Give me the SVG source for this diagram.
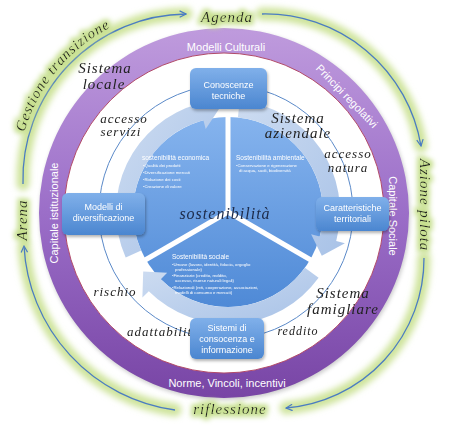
<svg xmlns="http://www.w3.org/2000/svg" width="449" height="430" viewBox="0 0 449 430">
<style>
.hw{font-family:"Liberation Serif","DejaVu Serif",serif;font-style:italic;fill:#222;letter-spacing:1px}
.rt{font-family:"Liberation Sans",Arial,sans-serif;font-size:11px;fill:#fff;text-anchor:middle}
.bx{font-family:"Liberation Sans",Arial,sans-serif;font-size:9px;fill:#fff;text-anchor:middle}
.st{font-family:"Liberation Sans",Arial,sans-serif;font-size:6.5px;fill:#fff}
.bl{font-family:"Liberation Sans",Arial,sans-serif;font-size:4.3px;fill:#fff}
.arc{fill:none;stroke:#4b7cc2;stroke-width:1.3;marker-end:url(#ah)}
.glow{fill:none;stroke:#cfe49c;stroke-width:13;stroke-linecap:round;filter:url(#blur)}
.box{fill:url(#gBox);filter:url(#sh)}
.band{fill:url(#gBand)}
.div{stroke:#fff;stroke-width:5}
</style>
<defs>
<marker id="ah" viewBox="0 0 10 10" refX="9" refY="5" markerWidth="8" markerHeight="8" orient="auto" markerUnits="userSpaceOnUse"><path d="M1,1 L9,5 L1,9" fill="none" stroke="#4b7cc2" stroke-width="1.5"/></marker>
<filter id="tg" x="-30%" y="-60%" width="160%" height="220%">
<feMorphology in="SourceAlpha" operator="dilate" radius="2.5" result="d"/>
<feGaussianBlur in="d" stdDeviation="2.5" result="b"/>
<feFlood flood-color="#c6df8e"/>
<feComposite in2="b" operator="in" result="g"/>
<feMerge><feMergeNode in="g"/><feMergeNode in="SourceGraphic"/></feMerge>
</filter>
<filter id="blur" x="-20%" y="-20%" width="140%" height="140%"><feGaussianBlur stdDeviation="3"/></filter>
<filter id="sh" x="-20%" y="-20%" width="140%" height="150%"><feDropShadow dx="1" dy="2" stdDeviation="1.5" flood-color="#000" flood-opacity="0.3"/></filter>
<filter id="rs" x="-10%" y="-10%" width="120%" height="120%"><feGaussianBlur stdDeviation="2"/></filter>
<linearGradient id="gRing" x1="0" y1="0" x2="0" y2="1"><stop offset="0" stop-color="#bf9bdd"/><stop offset="0.5" stop-color="#9b6ec8"/><stop offset="1" stop-color="#7845a5"/></linearGradient>
<linearGradient id="gBox" x1="0" y1="0" x2="0" y2="1"><stop offset="0" stop-color="#80b0ea"/><stop offset="1" stop-color="#4b86d0"/></linearGradient>
<linearGradient id="gDisc" gradientUnits="userSpaceOnUse" x1="0" y1="115" x2="0" y2="310"><stop offset="0" stop-color="#86b4ee"/><stop offset="1" stop-color="#4e89d6"/></linearGradient>
<linearGradient id="gBand" x1="0" y1="0" x2="1" y2="1"><stop offset="0" stop-color="#cddcf1"/><stop offset="1" stop-color="#a8c2e7"/></linearGradient>
</defs>

<g id="connectors">
<path class="glow" d="M23,184 A165,165 0 0,1 186,14"/>
<path class="glow" d="M262,14 A158,158 0 0,1 421,146"/>
<path class="glow" d="M424,258 A150,150 0 0,1 286,408"/>
<path class="glow" d="M175,410 A175,175 0 0,1 24,246"/>
<path class="arc" d="M23,184 A165,165 0 0,1 186,14"/>
<path class="arc" d="M262,14 A158,158 0 0,1 421,146"/>
<path class="arc" d="M424,258 A150,150 0 0,1 286,408"/>
<path class="arc" d="M175,410 A175,175 0 0,1 24,246"/>
</g>

<g id="ring">
<circle cx="225" cy="215" r="185" fill="#666" opacity="0.35" filter="url(#rs)"/>
<path fill="url(#gRing)" fill-rule="evenodd" d="M39,213 A185,185 0 1,0 409,213 A185,185 0 1,0 39,213 Z M64,213 A160,160 0 1,0 384,213 A160,160 0 1,0 64,213 Z"/>
<circle cx="224" cy="213" r="160" fill="#fff" stroke="#b24a6a" stroke-width="1"/>
<text class="rt" x="226" y="51">Modelli Culturali</text>
<text class="rt" transform="translate(347,96) rotate(46)" y="4">Principi regolativi</text>
<text class="rt" transform="translate(393,216) rotate(90)" y="4">Capitale Sociale</text>
<text class="rt" transform="translate(54,213) rotate(-90)" y="4">Capitale istituzionale</text>
<text class="rt" x="227" y="387">Norme, Vincoli, incentivi</text>
</g>

<g id="outer-labels" filter="url(#tg)">
<text class="hw" font-size="15" x="227" y="22" text-anchor="middle">Agenda</text>
<text class="hw" font-size="15" transform="translate(424,205) rotate(90)" y="4" text-anchor="middle">Azione pilota</text>
<text class="hw" font-size="15" x="230" y="414" text-anchor="middle">riflessione</text>
<text class="hw" font-size="15" transform="translate(22,220) rotate(-90)" y="5" text-anchor="middle">Arena</text>
<path id="gtp" d="M19.2,158.2 A170,170 0 0,1 135.4,17.2" fill="none"/>
<text class="hw" font-size="14.5"><textPath href="#gtp" startOffset="50%" text-anchor="middle">Gestione transizione</textPath></text>
</g>

<circle cx="226" cy="212" r="127" fill="none" stroke="#5a89c8" stroke-width="1"/>

<g id="cycle">
<circle cx="228" cy="212" r="95" fill="url(#gDisc)"/>
<path class="band" d="M125.7,257.6 A112,112 0 0,1 199.0,103.8 L196.7,95.1 L219.0,108.9 L205.7,128.9 L203.4,120.2 A95,95 0 0,0 141.2,250.6 Z"/>
<path class="band" d="M239.7,100.6 A112,112 0 0,1 336.2,241.0 L344.9,243.3 L321.8,255.7 L311.1,234.3 L319.8,236.6 A95,95 0 0,0 237.9,117.5 Z"/>
<path class="band" d="M318.6,277.8 A112,112 0 0,1 148.8,291.2 L142.4,297.6 L143.2,271.4 L167.2,272.8 L160.8,279.2 A95,95 0 0,0 304.9,267.8 Z"/>
<line class="div" x1="228" y1="212" x2="228" y2="108"/>
<line class="div" x1="228" y1="212" x2="316" y2="263"/>
<line class="div" x1="228" y1="212" x2="140" y2="263"/>
</g>

<g id="sost-economica">
<text class="st" x="142" y="160">sostenibilità economica</text>
<text class="bl" x="143" y="167">•Qualità dei prodotti</text>
<text class="bl" x="143" y="174">•Diversificazione mercati</text>
<text class="bl" x="143" y="181">•Riduzione dei costi</text>
<text class="bl" x="143" y="188">•Creazione di valore</text>
</g>
<g id="sost-ambientale">
<text class="st" x="236" y="160">Sostenibilità ambientale</text>
<text class="bl" x="236" y="167">•Conservazione e rigenerazione</text>
<text class="bl" x="239" y="172">di acqua, suoli, biodiversità</text>
</g>
<g id="sost-sociale">
<text class="st" x="172" y="259">Sostenibilità sociale</text>
<text class="bl" x="172" y="266">•Umane (lavoro, identità, fiducia, orgoglio</text>
<text class="bl" x="175" y="271">professionale)</text>
<text class="bl" x="172" y="277">•Finanziarie (credito, reddito,</text>
<text class="bl" x="175" y="282">accesso, risorse naturali legali)</text>
<text class="bl" x="172" y="289">•Relazionali (reti, cooperazione, associazioni,</text>
<text class="bl" x="175" y="294">modelli di consumo e mercati)</text>
</g>

<g id="inner-labels">
<text class="hw" font-size="15" x="105" y="73" text-anchor="middle">Sistema</text>
<text class="hw" font-size="15" x="104" y="89" text-anchor="middle">locale</text>
<text class="hw" font-size="13" x="124" y="123" text-anchor="middle">accesso</text>
<text class="hw" font-size="13" x="121" y="136" text-anchor="middle">servizi</text>
<text class="hw" font-size="15" x="298" y="123" text-anchor="middle">Sistema</text>
<text class="hw" font-size="15" x="298" y="138" text-anchor="middle">aziendale</text>
<text class="hw" font-size="13" x="348" y="158" text-anchor="middle">accesso</text>
<text class="hw" font-size="13" x="348" y="172" text-anchor="middle">natura</text>
<text class="hw" font-size="16" x="225" y="219" text-anchor="middle" style="fill:#1c2a48">sostenibilità</text>
<text class="hw" font-size="13" x="115" y="296" text-anchor="middle">rischio</text>
<text class="hw" font-size="13" x="127" y="336">adattabilità</text>
<text class="hw" font-size="15" x="343" y="298" text-anchor="middle">Sistema</text>
<text class="hw" font-size="15" x="343" y="314" text-anchor="middle">famigliare</text>
<text class="hw" font-size="12" x="298" y="335" text-anchor="middle">reddito</text>
</g>

<g id="box-conoscenze">
<rect class="box" x="190" y="68" width="77" height="41" rx="6"/>
<text class="bx" x="228.5" y="88">Conoscenze</text>
<text class="bx" x="228.5" y="99">tecniche</text>
</g>
<g id="box-caratteristiche">
<rect class="box" x="316" y="197" width="73" height="34" rx="6"/>
<text class="bx" x="352.5" y="211">Caratteristiche</text>
<text class="bx" x="352.5" y="222">territoriali</text>
</g>
<g id="box-modelli">
<rect class="box" x="62" y="193" width="83" height="42" rx="6"/>
<text class="bx" x="103.5" y="210">Modelli di</text>
<text class="bx" x="103.5" y="221">diversificazione</text>
</g>
<g id="box-sistemi">
<rect class="box" x="190" y="318" width="74" height="41" rx="6"/>
<text class="bx" x="227" y="331">Sistemi di</text>
<text class="bx" x="227" y="342">consocenza e</text>
<text class="bx" x="227" y="353">informazione</text>
</g>
</svg>
